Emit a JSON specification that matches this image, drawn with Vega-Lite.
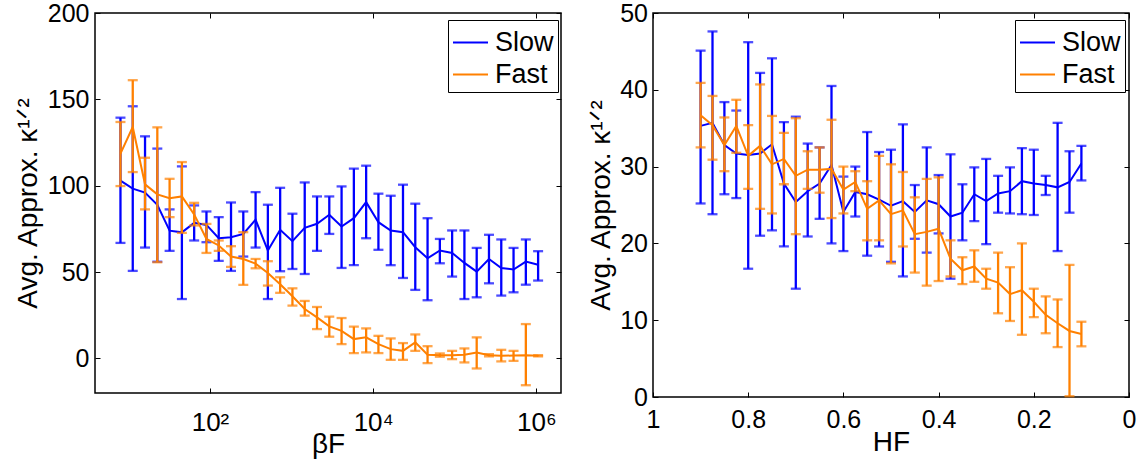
{
  "$schema": "https://vega.github.io/schema/vega-lite/v6.json",
  "background": "white",
  "padding": {"left": 13, "top": 0, "right": 0, "bottom": 0},
  "spacing": 23,
  "datasets": {
    "beta": [
      {"s":"Slow","x":8,"m":103,"lo":66.9,"hi":139.4},
      {"s":"Slow","x":11.3137,"m":98.3,"lo":50.7,"hi":146},
      {"s":"Slow","x":16,"m":96,"lo":64.2,"hi":128.6},
      {"s":"Slow","x":22.6274,"m":89,"lo":56,"hi":121.5},
      {"s":"Slow","x":32,"m":74,"lo":62.3,"hi":86.3},
      {"s":"Slow","x":45.2548,"m":73,"lo":34.4,"hi":111.2},
      {"s":"Slow","x":64,"m":78.5,"lo":68.3,"hi":88.6},
      {"s":"Slow","x":90.5097,"m":77.3,"lo":67.3,"hi":85.1},
      {"s":"Slow","x":128,"m":69.6,"lo":56.5,"hi":81.8},
      {"s":"Slow","x":181.019,"m":70.2,"lo":50.7,"hi":90.3},
      {"s":"Slow","x":256,"m":72.1,"lo":59,"hi":85.1},
      {"s":"Slow","x":362.039,"m":80.3,"lo":64.2,"hi":96.3},
      {"s":"Slow","x":512,"m":62.5,"lo":34.4,"hi":89},
      {"s":"Slow","x":724.077,"m":74.5,"lo":50.5,"hi":98.8},
      {"s":"Slow","x":1024,"m":67.9,"lo":51.8,"hi":83.8},
      {"s":"Slow","x":1448.15,"m":75.6,"lo":48.9,"hi":101.9},
      {"s":"Slow","x":2048,"m":78,"lo":62.3,"hi":93.8},
      {"s":"Slow","x":2896.31,"m":83.2,"lo":72.1,"hi":93.8},
      {"s":"Slow","x":4096,"m":76.4,"lo":52.4,"hi":99.6},
      {"s":"Slow","x":5792.62,"m":81.2,"lo":54,"hi":109.9},
      {"s":"Slow","x":8192,"m":90.5,"lo":69.6,"hi":111.6},
      {"s":"Slow","x":11585.2,"m":78.9,"lo":62.9,"hi":95.4},
      {"s":"Slow","x":16384,"m":74.1,"lo":54,"hi":94.2},
      {"s":"Slow","x":23170.5,"m":73.1,"lo":46.6,"hi":100.6},
      {"s":"Slow","x":32768,"m":64.4,"lo":39.7,"hi":89.6},
      {"s":"Slow","x":46341,"m":58,"lo":33.7,"hi":81.2},
      {"s":"Slow","x":65536,"m":62.5,"lo":55.1,"hi":69.2},
      {"s":"Slow","x":92681.9,"m":61.1,"lo":47.4,"hi":74.1},
      {"s":"Slow","x":131072,"m":55.3,"lo":34.4,"hi":74.1},
      {"s":"Slow","x":185364,"m":50.3,"lo":35.4,"hi":64},
      {"s":"Slow","x":262144,"m":57.6,"lo":43.5,"hi":71.6},
      {"s":"Slow","x":370728,"m":52.4,"lo":36.4,"hi":68.9},
      {"s":"Slow","x":524288,"m":51.5,"lo":38.3,"hi":64},
      {"s":"Slow","x":741455,"m":56.1,"lo":42.7,"hi":68.9},
      {"s":"Slow","x":1048576,"m":54.2,"lo":45.1,"hi":62.1},
      {"s":"Fast","x":8,"m":118.6,"lo":99.8,"hi":136.9},
      {"s":"Fast","x":11.3137,"m":134,"lo":107.9,"hi":161.1},
      {"s":"Fast","x":16,"m":100.8,"lo":86.3,"hi":116.2},
      {"s":"Fast","x":22.6274,"m":95,"lo":55.7,"hi":133.8},
      {"s":"Fast","x":32,"m":92.8,"lo":81.8,"hi":104},
      {"s":"Fast","x":45.2548,"m":93.8,"lo":72.7,"hi":113.7},
      {"s":"Fast","x":64,"m":83.4,"lo":77,"hi":90.1},
      {"s":"Fast","x":90.5097,"m":69.2,"lo":61.1,"hi":77.9},
      {"s":"Fast","x":128,"m":65.4,"lo":62.3,"hi":68.3},
      {"s":"Fast","x":181.019,"m":59,"lo":53,"hi":65},
      {"s":"Fast","x":256,"m":57.6,"lo":42.6,"hi":73.1},
      {"s":"Fast","x":362.039,"m":54.9,"lo":52.2,"hi":57.6},
      {"s":"Fast","x":512,"m":49.5,"lo":42.2,"hi":56.3},
      {"s":"Fast","x":724.077,"m":43,"lo":38,"hi":47},
      {"s":"Fast","x":1024,"m":36,"lo":30.6,"hi":40.6},
      {"s":"Fast","x":1448.15,"m":28.6,"lo":24.8,"hi":33.3},
      {"s":"Fast","x":2048,"m":23.8,"lo":17,"hi":29.8},
      {"s":"Fast","x":2896.31,"m":18.6,"lo":12.6,"hi":24.2},
      {"s":"Fast","x":4096,"m":16,"lo":8.3,"hi":23.4},
      {"s":"Fast","x":5792.62,"m":11.2,"lo":3.1,"hi":18.4},
      {"s":"Fast","x":8192,"m":12.2,"lo":3.5,"hi":17.4},
      {"s":"Fast","x":11585.2,"m":8.3,"lo":3.1,"hi":13.1},
      {"s":"Fast","x":16384,"m":5.4,"lo":-0.8,"hi":11.6},
      {"s":"Fast","x":23170.5,"m":4.4,"lo":-0.8,"hi":8.9},
      {"s":"Fast","x":32768,"m":9.3,"lo":4.4,"hi":13.9},
      {"s":"Fast","x":46341,"m":2.1,"lo":-2.7,"hi":7.1},
      {"s":"Fast","x":65536,"m":1.9,"lo":1,"hi":2.9},
      {"s":"Fast","x":92681.9,"m":1.9,"lo":-0.4,"hi":4.4},
      {"s":"Fast","x":131072,"m":2.1,"lo":-2.3,"hi":5.8},
      {"s":"Fast","x":185364,"m":3.5,"lo":-5.8,"hi":12.2},
      {"s":"Fast","x":262144,"m":1.9,"lo":1.2,"hi":2.5},
      {"s":"Fast","x":370728,"m":1.5,"lo":-1.7,"hi":5},
      {"s":"Fast","x":524288,"m":1.7,"lo":-1.4,"hi":4.4},
      {"s":"Fast","x":741455,"m":1.9,"lo":-15.5,"hi":19.9},
      {"s":"Fast","x":1048576,"m":1.5,"lo":1.2,"hi":1.9}
    ],
    "hf": [
      {"s":"Slow","x":0.9,"m":35.3,"lo":25.2,"hi":45.1},
      {"s":"Slow","x":0.875,"m":35.7,"lo":23.8,"hi":47.6},
      {"s":"Slow","x":0.85,"m":32.8,"lo":26.4,"hi":38.4},
      {"s":"Slow","x":0.825,"m":31.7,"lo":25.9,"hi":37.3},
      {"s":"Slow","x":0.8,"m":31.5,"lo":16.7,"hi":46.2},
      {"s":"Slow","x":0.775,"m":31.7,"lo":21,"hi":42.2},
      {"s":"Slow","x":0.75,"m":32.9,"lo":21.7,"hi":44.1},
      {"s":"Slow","x":0.725,"m":27.8,"lo":19.6,"hi":35.8},
      {"s":"Slow","x":0.7,"m":25.4,"lo":14.1,"hi":36.5},
      {"s":"Slow","x":0.675,"m":26.8,"lo":20.9,"hi":33},
      {"s":"Slow","x":0.65,"m":27.8,"lo":23.2,"hi":32.5},
      {"s":"Slow","x":0.625,"m":30.2,"lo":20,"hi":40.5},
      {"s":"Slow","x":0.6,"m":24.1,"lo":19,"hi":28.7},
      {"s":"Slow","x":0.575,"m":26.7,"lo":23.5,"hi":30},
      {"s":"Slow","x":0.55,"m":26.4,"lo":18.4,"hi":34.5},
      {"s":"Slow","x":0.525,"m":25.7,"lo":19.6,"hi":31.9},
      {"s":"Slow","x":0.5,"m":24.9,"lo":17.6,"hi":32.2},
      {"s":"Slow","x":0.475,"m":25.5,"lo":15.7,"hi":35.5},
      {"s":"Slow","x":0.45,"m":24.1,"lo":20.6,"hi":27.6},
      {"s":"Slow","x":0.425,"m":25.6,"lo":18.8,"hi":32.5},
      {"s":"Slow","x":0.4,"m":25.1,"lo":21.3,"hi":28.9},
      {"s":"Slow","x":0.375,"m":23.5,"lo":15.4,"hi":31.6},
      {"s":"Slow","x":0.35,"m":24,"lo":20.4,"hi":27.7},
      {"s":"Slow","x":0.325,"m":26.4,"lo":22.9,"hi":29.9},
      {"s":"Slow","x":0.3,"m":25.5,"lo":19.9,"hi":31},
      {"s":"Slow","x":0.275,"m":26.5,"lo":24,"hi":28.8},
      {"s":"Slow","x":0.25,"m":26.8,"lo":23.9,"hi":29.9},
      {"s":"Slow","x":0.225,"m":28.1,"lo":23.8,"hi":32.4},
      {"s":"Slow","x":0.2,"m":27.8,"lo":23.7,"hi":32.2},
      {"s":"Slow","x":0.175,"m":27.6,"lo":26.3,"hi":28.8},
      {"s":"Slow","x":0.15,"m":27.3,"lo":19,"hi":35.7},
      {"s":"Slow","x":0.125,"m":28,"lo":24,"hi":32},
      {"s":"Slow","x":0.1,"m":30.4,"lo":28.2,"hi":32.7},
      {"s":"Fast","x":0.9,"m":36.7,"lo":32.5,"hi":40.9},
      {"s":"Fast","x":0.875,"m":35.4,"lo":30.9,"hi":39.2},
      {"s":"Fast","x":0.85,"m":32.8,"lo":29.4,"hi":36.4},
      {"s":"Fast","x":0.825,"m":35.3,"lo":31.8,"hi":38.7},
      {"s":"Fast","x":0.8,"m":31.4,"lo":27.1,"hi":35.4},
      {"s":"Fast","x":0.775,"m":32.7,"lo":24.5,"hi":40.7},
      {"s":"Fast","x":0.75,"m":30.3,"lo":23.9,"hi":36.6},
      {"s":"Fast","x":0.725,"m":31,"lo":27.7,"hi":34.4},
      {"s":"Fast","x":0.7,"m":28.8,"lo":21.2,"hi":36.3},
      {"s":"Fast","x":0.675,"m":29.6,"lo":27.1,"hi":32},
      {"s":"Fast","x":0.65,"m":29.6,"lo":26.6,"hi":32.5},
      {"s":"Fast","x":0.625,"m":29.7,"lo":23.3,"hi":36.1},
      {"s":"Fast","x":0.6,"m":27,"lo":23.9,"hi":30},
      {"s":"Fast","x":0.575,"m":28,"lo":26.8,"hi":29.4},
      {"s":"Fast","x":0.55,"m":24.5,"lo":20.4,"hi":28.1},
      {"s":"Fast","x":0.525,"m":25.6,"lo":20.4,"hi":31.4},
      {"s":"Fast","x":0.5,"m":23.8,"lo":17.4,"hi":30.3},
      {"s":"Fast","x":0.475,"m":24.3,"lo":19.6,"hi":29.3},
      {"s":"Fast","x":0.45,"m":21.2,"lo":16.2,"hi":26},
      {"s":"Fast","x":0.425,"m":21.5,"lo":14.5,"hi":28.4},
      {"s":"Fast","x":0.4,"m":21.9,"lo":15.1,"hi":28.6},
      {"s":"Fast","x":0.375,"m":18,"lo":15.7,"hi":20.4},
      {"s":"Fast","x":0.35,"m":16.5,"lo":14.7,"hi":18.2},
      {"s":"Fast","x":0.325,"m":17,"lo":15,"hi":19.1},
      {"s":"Fast","x":0.3,"m":15.4,"lo":14.1,"hi":16.7},
      {"s":"Fast","x":0.275,"m":14.9,"lo":10.9,"hi":18.8},
      {"s":"Fast","x":0.25,"m":13.4,"lo":9.9,"hi":16.9},
      {"s":"Fast","x":0.225,"m":13.9,"lo":8.1,"hi":20},
      {"s":"Fast","x":0.2,"m":12.4,"lo":10.4,"hi":14.1},
      {"s":"Fast","x":0.175,"m":10.7,"lo":8.3,"hi":13.1},
      {"s":"Fast","x":0.15,"m":9.6,"lo":6.5,"hi":12.7},
      {"s":"Fast","x":0.125,"m":8.6,"lo":0.1,"hi":17.2},
      {"s":"Fast","x":0.1,"m":8.2,"lo":6.6,"hi":9.8}
    ]
  },
  "resolve": {"scale": {"x": "independent", "y": "independent", "color": "independent"}, "legend": {"color": "independent"}},
  "hconcat": [
    {
      "width": 466,
      "height": 380,
      "data": {"name": "beta"},
      "resolve": {"axis": {"x": "independent", "y": "independent"}},
      "layer": [
        {
          "transform": [{"filter": "datum.s == 'Slow'"}],
          "mark": {"type": "rule", "color": "#0000ff", "strokeWidth": 2.3},
          "encoding": {
            "x": {"field": "x", "type": "quantitative", "scale": {"type": "log", "domain": [3.9, 2000000], "nice": false},
                  "axis": {"orient": "bottom", "values": [100, 10000, 1000000], "labelExpr": "datum.value == 100 ? '10²' : datum.value == 10000 ? '10⁴' : '10⁶'", "labelPadding": 21, "labelFontSize": 26, "title": "βF", "titleBaseline": "alphabetic", "titleY": 59}},
            "y": {"field": "lo", "type": "quantitative", "scale": {"domain": [-20, 200], "nice": false, "zero": false},
                  "axis": {"orient": "left", "values": [0, 50, 100, 150, 200], "labelPadding": 11, "title": "Avg. Approx. κ¹ᐟ²", "titleX": -59, "titleBaseline": "alphabetic"}},
            "y2": {"field": "hi"}
          }
        },
        {
          "transform": [{"filter": "datum.s == 'Slow'"}],
          "mark": {"type": "tick", "color": "#0000ff", "orient": "horizontal", "size": 10, "thickness": 2.3},
          "encoding": {
            "x": {"field": "x", "type": "quantitative", "scale": {"type": "log", "domain": [3.9, 2000000], "nice": false},
                  "axis": {"orient": "top", "values": [100, 10000, 1000000], "labels": false, "title": null}},
            "y": {"field": "lo", "type": "quantitative", "scale": {"domain": [-20, 200], "nice": false, "zero": false},
                  "axis": {"orient": "right", "values": [0, 50, 100, 150, 200], "labels": false, "title": null}}
          }
        },
        {
          "transform": [{"filter": "datum.s == 'Slow'"}],
          "mark": {"type": "tick", "color": "#0000ff", "orient": "horizontal", "size": 10, "thickness": 2.3},
          "encoding": {
            "x": {"field": "x", "type": "quantitative", "axis": null},
            "y": {"field": "hi", "type": "quantitative", "axis": null}
          }
        },
        {
          "transform": [{"filter": "datum.s == 'Slow'"}],
          "mark": {"type": "line", "strokeWidth": 2},
          "encoding": {
            "x": {"field": "x", "type": "quantitative", "axis": null},
            "y": {"field": "m", "type": "quantitative", "axis": null},
            "color": {"field": "s", "type": "nominal", "scale": {"domain": ["Slow", "Fast"], "range": ["#0000ff", "#ff8000"]},
                      "legend": {"orient": "none", "legendX": 353, "legendY": 7, "title": null, "symbolType": "stroke", "symbolSize": 1225, "symbolStrokeWidth": 2, "labelFontSize": 27, "labelOffset": 6, "rowPadding": 0, "padding": 4, "strokeColor": "black", "fillColor": "white", "labelColor": "black"}}
          }
        },
        {
          "transform": [{"filter": "datum.s == 'Fast'"}],
          "mark": {"type": "rule", "color": "#ff8000", "strokeWidth": 2.3},
          "encoding": {
            "x": {"field": "x", "type": "quantitative", "axis": null},
            "y": {"field": "lo", "type": "quantitative", "axis": null},
            "y2": {"field": "hi"}
          }
        },
        {
          "transform": [{"filter": "datum.s == 'Fast'"}],
          "mark": {"type": "tick", "color": "#ff8000", "orient": "horizontal", "size": 10, "thickness": 2.3},
          "encoding": {
            "x": {"field": "x", "type": "quantitative", "axis": null},
            "y": {"field": "lo", "type": "quantitative", "axis": null}
          }
        },
        {
          "transform": [{"filter": "datum.s == 'Fast'"}],
          "mark": {"type": "tick", "color": "#ff8000", "orient": "horizontal", "size": 10, "thickness": 2.3},
          "encoding": {
            "x": {"field": "x", "type": "quantitative", "axis": null},
            "y": {"field": "hi", "type": "quantitative", "axis": null}
          }
        },
        {
          "transform": [{"filter": "datum.s == 'Fast'"}],
          "mark": {"type": "line", "strokeWidth": 2},
          "encoding": {
            "x": {"field": "x", "type": "quantitative", "axis": null},
            "y": {"field": "m", "type": "quantitative", "axis": null},
            "color": {"field": "s", "type": "nominal", "scale": {"domain": ["Slow", "Fast"], "range": ["#0000ff", "#ff8000"]},
                      "legend": {"orient": "none", "legendX": 353, "legendY": 7, "title": null, "symbolType": "stroke", "symbolSize": 1225, "symbolStrokeWidth": 2, "labelFontSize": 27, "labelOffset": 6, "rowPadding": 0, "padding": 4, "strokeColor": "black", "fillColor": "white", "labelColor": "black"}}
          }
        }
      ]
    },
    {
      "width": 476,
      "height": 384,
      "data": {"name": "hf"},
      "resolve": {"axis": {"x": "independent", "y": "independent"}},
      "layer": [
        {
          "transform": [{"filter": "datum.s == 'Slow'"}],
          "mark": {"type": "rule", "color": "#0000ff", "strokeWidth": 2.3},
          "encoding": {
            "x": {"field": "x", "type": "quantitative", "scale": {"domain": [0, 1], "reverse": true, "nice": false},
                  "axis": {"orient": "bottom", "values": [0, 0.2, 0.4, 0.6, 0.8, 1], "format": "~g", "labelPadding": 15, "title": "HF", "titleBaseline": "alphabetic", "titleY": 53}},
            "y": {"field": "lo", "type": "quantitative", "scale": {"domain": [0, 50], "nice": false},
                  "axis": {"orient": "left", "values": [0, 10, 20, 30, 40, 50], "labelPadding": 10.5, "title": "Avg. Approx. κ¹ᐟ²", "titleX": -44, "titleBaseline": "alphabetic"}},
            "y2": {"field": "hi"}
          }
        },
        {
          "transform": [{"filter": "datum.s == 'Slow'"}],
          "mark": {"type": "tick", "color": "#0000ff", "orient": "horizontal", "size": 10, "thickness": 2.3},
          "encoding": {
            "x": {"field": "x", "type": "quantitative", "scale": {"domain": [0, 1], "reverse": true, "nice": false},
                  "axis": {"orient": "top", "values": [0, 0.2, 0.4, 0.6, 0.8, 1], "labels": false, "title": null}},
            "y": {"field": "lo", "type": "quantitative", "scale": {"domain": [0, 50], "nice": false},
                  "axis": {"orient": "right", "values": [0, 10, 20, 30, 40, 50], "labels": false, "title": null}}
          }
        },
        {
          "transform": [{"filter": "datum.s == 'Slow'"}],
          "mark": {"type": "tick", "color": "#0000ff", "orient": "horizontal", "size": 10, "thickness": 2.3},
          "encoding": {
            "x": {"field": "x", "type": "quantitative", "axis": null},
            "y": {"field": "hi", "type": "quantitative", "axis": null}
          }
        },
        {
          "transform": [{"filter": "datum.s == 'Slow'"}],
          "mark": {"type": "line", "strokeWidth": 2},
          "encoding": {
            "x": {"field": "x", "type": "quantitative", "axis": null},
            "y": {"field": "m", "type": "quantitative", "axis": null},
            "color": {"field": "s", "type": "nominal", "scale": {"domain": ["Slow", "Fast"], "range": ["#0000ff", "#ff8000"]},
                      "legend": {"orient": "none", "legendX": 362, "legendY": 7, "title": null, "symbolType": "stroke", "symbolSize": 1225, "symbolStrokeWidth": 2, "labelFontSize": 27, "labelOffset": 6, "rowPadding": 0, "padding": 4, "strokeColor": "black", "fillColor": "white", "labelColor": "black"}}
          }
        },
        {
          "transform": [{"filter": "datum.s == 'Fast'"}],
          "mark": {"type": "rule", "color": "#ff8000", "strokeWidth": 2.3},
          "encoding": {
            "x": {"field": "x", "type": "quantitative", "axis": null},
            "y": {"field": "lo", "type": "quantitative", "axis": null},
            "y2": {"field": "hi"}
          }
        },
        {
          "transform": [{"filter": "datum.s == 'Fast'"}],
          "mark": {"type": "tick", "color": "#ff8000", "orient": "horizontal", "size": 10, "thickness": 2.3},
          "encoding": {
            "x": {"field": "x", "type": "quantitative", "axis": null},
            "y": {"field": "lo", "type": "quantitative", "axis": null}
          }
        },
        {
          "transform": [{"filter": "datum.s == 'Fast'"}],
          "mark": {"type": "tick", "color": "#ff8000", "orient": "horizontal", "size": 10, "thickness": 2.3},
          "encoding": {
            "x": {"field": "x", "type": "quantitative", "axis": null},
            "y": {"field": "hi", "type": "quantitative", "axis": null}
          }
        },
        {
          "transform": [{"filter": "datum.s == 'Fast'"}],
          "mark": {"type": "line", "strokeWidth": 2},
          "encoding": {
            "x": {"field": "x", "type": "quantitative", "axis": null},
            "y": {"field": "m", "type": "quantitative", "axis": null},
            "color": {"field": "s", "type": "nominal", "scale": {"domain": ["Slow", "Fast"], "range": ["#0000ff", "#ff8000"]},
                      "legend": {"orient": "none", "legendX": 362, "legendY": 7, "title": null, "symbolType": "stroke", "symbolSize": 1225, "symbolStrokeWidth": 2, "labelFontSize": 27, "labelOffset": 6, "rowPadding": 0, "padding": 4, "strokeColor": "black", "fillColor": "white", "labelColor": "black"}}
          }
        }
      ]
    }
  ],
  "config": {
    "font": "Liberation Sans, DejaVu Sans, sans-serif",
    "view": {"stroke": "#000000", "strokeWidth": 1.5},
    "axis": {"grid": false, "domain": false, "tickColor": "#000000", "tickSize": -5, "tickWidth": 1, "labelFontSize": 25, "labelColor": "#000000", "titleFontSize": 28, "titleFontWeight": "normal", "titleColor": "#000000", "labelFlush": false, "labelOverlap": false},
    "legend": {"labelFont": "Liberation Sans, DejaVu Sans, sans-serif"}
  }
}
